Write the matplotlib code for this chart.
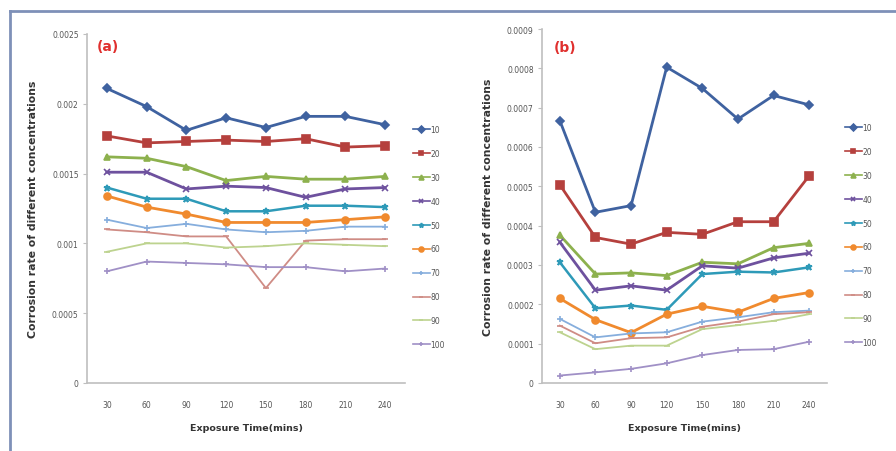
import matplotlib
matplotlib.use("Agg")
import matplotlib.pyplot as plt
from matplotlib.lines import Line2D

# Exposure times (categories)
times = ["30", "60", "90", "120", "150", "180", "210", "240"]
concentrations = ["10", "20", "30", "40", "50", "60", "70", "80", "90", "100"]

# Panel (a) corrosion rates
a_10 = [0.00211, 0.00198, 0.00181, 0.00190, 0.00183, 0.00191, 0.00191, 0.00185]
a_20 = [0.00177, 0.00172, 0.00173, 0.00174, 0.00173, 0.00175, 0.00169, 0.00170]
a_30 = [0.00162, 0.00161, 0.00155, 0.00145, 0.00148, 0.00146, 0.00146, 0.00148]
a_40 = [0.00151, 0.00151, 0.00139, 0.00141, 0.00140, 0.00133, 0.00139, 0.00140]
a_50 = [0.00140, 0.00132, 0.00132, 0.00123, 0.00123, 0.00127, 0.00127, 0.00126]
a_60 = [0.00134, 0.00126, 0.00121, 0.00115, 0.00115, 0.00115, 0.00117, 0.00119]
a_70 = [0.00117, 0.00111, 0.00114, 0.00110, 0.00108, 0.00109, 0.00112, 0.00112]
a_80 = [0.00110, 0.00108, 0.00105, 0.00105, 0.00068, 0.00102, 0.00103, 0.00103]
a_90 = [0.00094, 0.00100, 0.00100, 0.00097, 0.00098, 0.00100, 0.00099, 0.00098]
a_100 = [0.00080, 0.00087, 0.00086, 0.00085, 0.00083, 0.00083, 0.00080, 0.00082]

# Panel (b) corrosion rates
b_10 = [0.000667, 0.000434, 0.000451, 0.000803, 0.000749, 0.000671, 0.000731, 0.000707]
b_20 = [0.000504, 0.000370, 0.000353, 0.000383, 0.000378, 0.000410, 0.000410, 0.000527]
b_30 = [0.000376, 0.000277, 0.000280, 0.000273, 0.000307, 0.000303, 0.000344, 0.000355]
b_40 = [0.000358, 0.000236, 0.000247, 0.000236, 0.000298, 0.000292, 0.000318, 0.000330]
b_50 = [0.000307, 0.000190, 0.000197, 0.000186, 0.000277, 0.000283, 0.000281, 0.000294]
b_60 = [0.000215, 0.000161, 0.000128, 0.000175, 0.000195, 0.000180, 0.000215, 0.000230]
b_70 = [0.000163, 0.000116, 0.000126, 0.000129, 0.000156, 0.000167, 0.000180, 0.000184]
b_80 = [0.000146, 0.000101, 0.000114, 0.000116, 0.000143, 0.000156, 0.000175, 0.000180]
b_90 = [0.000129, 0.000086, 0.000095, 0.000095, 0.000137, 0.000147, 0.000158, 0.000175]
b_100 = [0.000019, 0.000027, 0.000036, 0.000050, 0.000071, 0.000084, 0.000086, 0.000105]

a_series = [a_10, a_20, a_30, a_40, a_50, a_60, a_70, a_80, a_90, a_100]
b_series = [b_10, b_20, b_30, b_40, b_50, b_60, b_70, b_80, b_90, b_100]

colors = ["#3F62A0", "#B5403D", "#8DB14E", "#6E519E", "#2E9AB8",
          "#F08A2E", "#86AEDD", "#CF8C85", "#BDD38F", "#A090C6"]
markers = ["D", "s", "^", "x", "*", "o", "+", "_", "_", "+"]
msizes = [4, 5.5, 5, 5, 5, 5, 4, 4, 4, 4]
lwidths = [2.0, 2.0, 2.0, 2.0, 1.8, 2.0, 1.3, 1.3, 1.3, 1.3]

fig = plt.figure(figsize=(8.96, 4.52), dpi=100)
fig.patch.set_facecolor("white")

# chart frame (top and left edges)
frame_col = "#7E90B8"
fig.add_artist(Line2D([10 / 896, 1.0], [1 - 12 / 452, 1 - 12 / 452],
                      transform=fig.transFigure, color=frame_col, lw=2))
fig.add_artist(Line2D([10 / 896, 10 / 896], [0.0, 1 - 12 / 452],
                      transform=fig.transFigure, color=frame_col, lw=2))

ax_a = fig.add_axes([87 / 896, 1 - 384 / 452, 318 / 896, 349 / 452])
ax_b = fig.add_axes([542 / 896, 1 - 384 / 452, 285 / 896, 354 / 452])

xpos = list(range(len(times)))


def style_axis(ax, ymax, step, ticklabels):
    ax.set_xlim(-0.5, len(times) - 0.5)
    ax.set_ylim(0, ymax)
    nt = len(ticklabels)
    ax.set_yticks([i * step for i in range(nt)])
    ax.set_yticklabels(ticklabels)
    ax.set_xticks(xpos)
    ax.set_xticklabels(times)
    for s in ["top", "right"]:
        ax.spines[s].set_visible(False)
    for s in ["left", "bottom"]:
        ax.spines[s].set_color("#BFBFBF")
        ax.spines[s].set_linewidth(1.2)
    ax.tick_params(axis="y", length=3, width=0.8, color="#BFBFBF",
                   labelsize=5.5, labelcolor="#555555", pad=3)
    ax.tick_params(axis="x", length=0, labelsize=5.5, labelcolor="#555555", pad=12)
    ax.set_xlabel("Exposure Time(mins)", fontsize=6.8, fontweight="bold",
                  color="#333333", labelpad=10)
    ax.set_ylabel("Corrosion rate of different concentrations", fontsize=7.8,
                  fontweight="bold", color="#333333")


def draw(ax, series):
    handles = []
    for vals, c, m, ms, lw, lab in zip(series, colors, markers, msizes, lwidths, concentrations):
        h, = ax.plot(xpos, vals, color=c, marker=m, markersize=ms, linewidth=lw,
                     markeredgecolor=c, markeredgewidth=1.2, label=lab)
        handles.append(h)
    return handles


ha = draw(ax_a, a_series)
hb = draw(ax_b, b_series)

style_axis(ax_a, 0.0025, 0.0005, ["0", "0.0005", "0.001", "0.0015", "0.002", "0.0025"])
style_axis(ax_b, 0.0009, 0.0001, ["0", "0.0001", "0.0002", "0.0003", "0.0004", "0.0005",
                                  "0.0006", "0.0007", "0.0008", "0.0009"])
ax_a.yaxis.set_label_coords(-0.154, 0.5)
ax_b.yaxis.set_label_coords(-0.172, 0.5)

ax_a.text(0.03, 0.965, "(a)", transform=ax_a.transAxes, color="#E0302E",
          fontsize=10, fontweight="bold", va="center", ha="left")
ax_b.text(0.04, 0.95, "(b)", transform=ax_b.transAxes, color="#E0302E",
          fontsize=10, fontweight="bold", va="center", ha="left")

leg_kw = dict(frameon=False, fontsize=5.5, labelspacing=1.95, handlelength=2.2,
              handletextpad=0.1, borderaxespad=0, loc="center left")
la = fig.legend(handles=ha, bbox_to_anchor=(410 / 896, 1 - 238 / 452), **leg_kw)
lb = fig.legend(handles=hb, bbox_to_anchor=(842 / 896, 1 - 236 / 452), **leg_kw)
for leg in (la, lb):
    for t in leg.get_texts():
        t.set_color("#555555")
    for h in leg.legend_handles:
        h.set_markersize(3.5)
        h.set_linewidth(1.2)

fig.savefig("out.png", dpi=100, facecolor=fig.get_facecolor())
